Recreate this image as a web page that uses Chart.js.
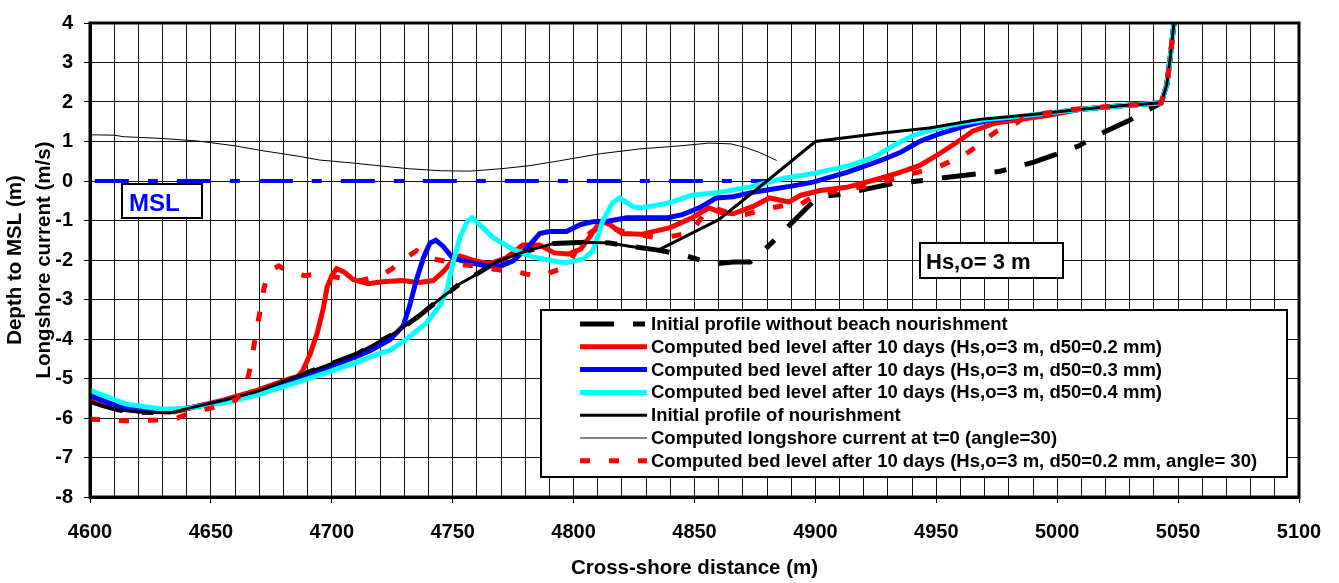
<!DOCTYPE html>
<html>
<head>
<meta charset="utf-8">
<script src="https://cdn.jsdelivr.net/npm/chart.js@4.4.1/dist/chart.umd.min.js"></script>
<style>
  html, body { margin: 0; padding: 0; background: #fff; }
  #wrap { width: 1339px; height: 583px; }
</style>
</head>
<body>
<div id="wrap"><canvas id="myChart" width="1339" height="583"></canvas></div>
<script>
// cross-shore profiles (x in m, y in m / m/s)
const noNourishX = [4600, 4605, 4612, 4620, 4633, 4641, 4655, 4669, 4683, 4696, 4710, 4724, 4728, 4736, 4745, 4753, 4758, 4768, 4779, 4786, 4792, 4805, 4815, 4823, 4835, 4845, 4858, 4866, 4873, 4880, 4888, 4901, 4910, 4923, 4932, 4946, 4954, 4968, 4976, 4990, 4998, 5009, 5016, 5029, 5037, 5043, 5045.3, 5046.6, 5048.3];
const noNourishY = [-5.58, -5.68, -5.8, -5.85, -5.87, -5.75, -5.56, -5.33, -5.0, -4.71, -4.39, -3.92, -3.77, -3.42, -2.97, -2.6, -2.43, -2.05, -1.8, -1.68, -1.58, -1.55, -1.57, -1.65, -1.75, -1.87, -2.1, -2.05, -2.05, -1.68, -1.2, -0.4, -0.34, -0.18, -0.06, 0.02, 0.09, 0.19, 0.24, 0.47, 0.64, 0.89, 1.14, 1.51, 1.78, 1.98, 2.43, 3.05, 4.0];

const bed02X = [4600, 4612, 4620, 4633, 4641, 4655, 4669, 4683, 4686, 4688, 4691, 4694, 4696.5, 4698, 4700, 4702, 4705, 4709, 4715, 4721, 4729, 4736, 4742, 4746, 4750, 4753, 4758, 4765, 4772, 4779, 4786, 4792, 4798, 4803, 4808, 4811, 4815, 4820, 4828, 4840, 4849, 4856, 4861, 4866, 4874, 4881, 4889, 4894, 4902, 4913, 4927, 4935, 4943, 4950, 4959, 4965, 4974, 4985, 4996, 5009, 5025, 5043, 5045.3, 5046.6, 5048.3];
const bed02Y = [-5.53, -5.75, -5.82, -5.85, -5.75, -5.55, -5.3, -5.0, -4.95, -4.8, -4.39, -3.84, -3.22, -2.7, -2.4, -2.22, -2.3, -2.5, -2.6, -2.55, -2.52, -2.57, -2.52, -2.3, -2.02, -1.9, -2.0, -2.1, -1.95, -1.62, -1.62, -1.82, -1.85, -1.72, -1.3, -1.03, -1.1, -1.33, -1.35, -1.18, -0.93, -0.68, -0.8, -0.83, -0.65, -0.43, -0.53, -0.36, -0.24, -0.16, 0.07, 0.22, 0.39, 0.64, 1.0, 1.26, 1.46, 1.56, 1.66, 1.81, 1.9, 1.98, 2.43, 3.05, 4.0];

const bed03X = [4600, 4612, 4620, 4633, 4645, 4655, 4669, 4683, 4696, 4710, 4716, 4724, 4729.5, 4732, 4735, 4738, 4740.6, 4743, 4746, 4750, 4756, 4764, 4770, 4775, 4781, 4786, 4790, 4797, 4803, 4808, 4814, 4822, 4839, 4845, 4852, 4859, 4866, 4873, 4880, 4890, 4899, 4913, 4927, 4935, 4943, 4951.5, 4961, 4971, 4985, 4996, 5009, 5025, 5043, 5045.3, 5046.6, 5048.3];
const bed03Y = [-5.43, -5.72, -5.8, -5.82, -5.7, -5.58, -5.37, -5.07, -4.77, -4.45, -4.29, -4.02, -3.67, -3.2, -2.5, -1.93, -1.57, -1.5, -1.65, -1.95, -2.05, -2.15, -2.15, -2.02, -1.68, -1.33, -1.28, -1.28, -1.1, -1.03, -1.02, -0.93, -0.93, -0.85, -0.68, -0.43, -0.4, -0.3, -0.23, -0.13, -0.03, 0.22, 0.52, 0.72, 1.0, 1.2, 1.38, 1.53, 1.63, 1.71, 1.81, 1.9, 1.98, 2.43, 3.05, 4.0];

const bed04X = [4600, 4615, 4630, 4640, 4655, 4669, 4683, 4696, 4710, 4720, 4724, 4731, 4739, 4744.7, 4747.6, 4750, 4753, 4756, 4758, 4761, 4767, 4775, 4783, 4794, 4797, 4804, 4808, 4812, 4816, 4819, 4824.6, 4828, 4839, 4849, 4859, 4873, 4887, 4900, 4914, 4924, 4932, 4940, 4949, 4960, 4971, 4985, 4996, 5009, 5025, 5043, 5045.3, 5046.6, 5048.3];
const bed04Y = [-5.3, -5.65, -5.78, -5.75, -5.62, -5.42, -5.15, -4.89, -4.6, -4.36, -4.29, -4.0, -3.6, -3.15, -2.77, -2.1, -1.43, -1.02, -0.93, -1.1, -1.45, -1.73, -1.92, -2.05, -2.07, -1.97, -1.77, -1.02, -0.56, -0.43, -0.65, -0.68, -0.56, -0.36, -0.3, -0.15, 0.07, 0.2, 0.39, 0.59, 0.89, 1.14, 1.31, 1.46, 1.56, 1.64, 1.72, 1.81, 1.9, 1.98, 2.43, 3.05, 4.0];

const nourishX = [4600, 4605, 4612, 4620, 4633, 4641, 4655, 4669, 4683, 4696, 4710, 4724, 4728, 4736, 4745, 4753, 4758, 4768, 4779, 4786, 4792, 4805, 4815, 4823, 4835, 4860, 4880, 4900, 4927, 4947, 4968, 4989, 5009, 5025, 5043, 5045.3, 5046.6, 5048.3];
const nourishY = [-5.58, -5.68, -5.8, -5.85, -5.87, -5.75, -5.56, -5.33, -5.0, -4.71, -4.39, -3.92, -3.77, -3.42, -2.97, -2.6, -2.43, -2.05, -1.8, -1.68, -1.58, -1.55, -1.57, -1.65, -1.75, -0.98, 0.0, 1.0, 1.21, 1.34, 1.56, 1.68, 1.81, 1.9, 1.98, 2.43, 3.05, 4.0];

const currentX = [4600, 4610, 4614, 4629, 4645, 4660, 4670, 4687, 4695, 4708, 4722, 4732, 4745, 4757, 4770, 4782, 4794, 4811, 4827, 4844, 4856, 4865, 4871, 4877, 4884];
const currentY = [1.17, 1.16, 1.12, 1.08, 1.01, 0.89, 0.78, 0.62, 0.53, 0.46, 0.37, 0.31, 0.26, 0.25, 0.31, 0.39, 0.51, 0.69, 0.81, 0.89, 0.96, 0.94, 0.85, 0.72, 0.52];

const bed02AngleX = [4600, 4615, 4628, 4636, 4641, 4652, 4660, 4664, 4666, 4668, 4670, 4672, 4674, 4678, 4682, 4689, 4694, 4703, 4712, 4720, 4725, 4728, 4735, 4738, 4746, 4750, 4759, 4771, 4775, 4783, 4787, 4795, 4798, 4803, 4807, 4811, 4816, 4822, 4834, 4838, 4845, 4849, 4855, 4858, 4866, 4871, 4880, 4889, 4893, 4901, 4912, 4919, 4926, 4936, 4940, 4949, 4952, 4961, 4964, 4971, 4975, 4983, 4986, 4994, 5006, 5025, 5043, 5045.3, 5046.6, 5048.3];
const bed02AngleY = [-6.03, -6.07, -6.05, -6.0, -5.88, -5.72, -5.55, -5.3, -4.8, -4.1, -3.4, -2.7, -2.3, -2.15, -2.3, -2.4, -2.35, -2.45, -2.52, -2.4, -2.22, -2.05, -1.77, -1.93, -2.02, -2.1, -2.15, -2.27, -2.28, -2.39, -2.39, -2.22, -2.1, -1.55, -1.3, -1.15, -1.2, -1.3, -1.43, -1.43, -1.35, -1.28, -0.73, -0.68, -0.85, -0.85, -0.7, -0.6, -0.62, -0.33, -0.23, -0.15, -0.05, 0.09, 0.19, 0.32, 0.39, 0.64, 0.76, 1.09, 1.26, 1.46, 1.59, 1.71, 1.81, 1.9, 1.98, 2.43, 3.05, 4.0];

const mslX = [4602, 4880];
const mslY = [0, 0];

const seriesLabels = [
  'Initial profile without beach nourishment',
  'Computed bed level after 10 days (Hs,o=3 m, d50=0.2 mm)',
  'Computed bed level after 10 days (Hs,o=3 m, d50=0.3 mm)',
  'Computed bed level after 10 days (Hs,o=3 m, d50=0.4 mm)',
  'Initial profile of nourishment',
  'Computed longshore current at t=0 (angle=30)',
  'Computed bed level after 10 days (Hs,o=3 m, d50=0.2 mm, angle= 30)'
];

const FONT = '"Liberation Sans", Arial, sans-serif';
Chart.defaults.font.family = FONT;
Chart.defaults.color = '#000';

function pts(xs, ys) {
  return xs.map((x, i) => ({x: x, y: ys[i]}));
}

function line(label, xs, ys, color, width, dash, order) {
  return {
    label: label,
    data: pts(xs, ys),
    showLine: true,
    borderColor: color,
    backgroundColor: color,
    borderWidth: width,
    borderDash: dash,
    pointRadius: 0,
    tension: 0,
    order: order
  };
}

// frame, legend box and the two text boxes
const extras = {
  id: 'extras',
  afterDraw(chart) {
    const ctx = chart.ctx;
    const a = chart.chartArea;
    ctx.save();
    ctx.strokeStyle = '#000';
    ctx.lineWidth = 3;
    ctx.strokeRect(a.left, a.top, a.right - a.left, a.bottom - a.top);

    // MSL box
    ctx.fillStyle = '#fff';
    ctx.lineWidth = 2;
    ctx.fillRect(122, 184, 80, 34);
    ctx.strokeRect(122, 184, 80, 34);
    ctx.fillStyle = '#0000ff';
    ctx.font = 'bold 24px ' + FONT;
    ctx.textBaseline = 'alphabetic';
    ctx.textAlign = 'left';
    ctx.fillText('MSL', 129, 211);

    // wave height box
    ctx.fillStyle = '#fff';
    ctx.fillRect(920, 243, 143, 35);
    ctx.strokeRect(920, 243, 143, 35);
    ctx.fillStyle = '#000';
    ctx.font = 'bold 22px ' + FONT;
    ctx.fillText('Hs,o= 3 m', 926, 269);

    // legend
    ctx.fillStyle = '#fff';
    ctx.fillRect(541, 310, 746, 167);
    ctx.strokeRect(541, 310, 746, 167);
    ctx.font = 'bold 18.5px ' + FONT;
    ctx.textBaseline = 'middle';
    const sets = chart.data.datasets.filter(d => d.label !== 'MSL');
    sets.forEach((d, i) => {
      const y = 324 + i * 22.8;
      ctx.beginPath();
      ctx.setLineDash(d.borderDash || []);
      ctx.lineWidth = d.borderWidth;
      ctx.strokeStyle = d.borderColor;
      ctx.moveTo(580, y);
      ctx.lineTo(647, y);
      ctx.stroke();
      ctx.setLineDash([]);
      ctx.fillStyle = '#000';
      ctx.fillText(d.label, 651, y + 1);
    });
    ctx.restore();
  }
};

const ctx = document.getElementById('myChart').getContext('2d');
const myChart = new Chart(ctx, {
  type: 'scatter',
  data: {
    datasets: [
      line(seriesLabels[0], noNourishX, noNourishY, '#000000', 5, [34, 19, 12, 19], 6),
      line(seriesLabels[1], bed02X, bed02Y, '#ff0000', 5, [], 5),
      line(seriesLabels[2], bed03X, bed03Y, '#0000ff', 5, [], 4),
      line(seriesLabels[3], bed04X, bed04Y, '#00ffff', 5, [], 3),
      line(seriesLabels[4], nourishX, nourishY, '#000000', 3, [], 2),
      line(seriesLabels[5], currentX, currentY, '#000000', 1, [], 1),
      line(seriesLabels[6], bed02AngleX, bed02AngleY, '#ff0000', 5, [10, 19], 0),
      line('MSL', mslX, mslY, '#0000ff', 4, [34, 19, 10, 19], 7)
    ]
  },
  options: {
    responsive: false,
    animation: false,
    devicePixelRatio: 1,
    layout: {padding: {left: 0, right: 40, top: 15, bottom: 0}},
    plugins: {
      legend: {display: false},
      tooltip: {enabled: false}
    },
    scales: {
      x: {
        type: 'linear',
        min: 4600,
        max: 5100,
        afterFit: s => { s.height = 86; },
        ticks: {
          stepSize: 10,
          autoSkip: false,
          maxRotation: 0,
          padding: 17,
          font: {size: 20, weight: 'bold'},
          callback: v => (v % 50 === 0 ? v : '')
        },
        grid: {
          color: '#151515',
          lineWidth: 1,
          tickLength: 6,
          tickColor: c => (c.tick && c.tick.value % 50 === 0 ? '#000' : 'rgba(0,0,0,0)')
        },
        border: {display: true, color: '#000', width: 3},
        title: {
          display: true,
          text: 'Cross-shore distance (m)',
          font: {size: 20.5, weight: 'bold'},
          padding: {top: 0, bottom: 2}
        }
      },
      y: {
        min: -8,
        max: 4,
        afterFit: s => { s.width = 90; },
        ticks: {
          stepSize: 1,
          padding: 11,
          font: {size: 20, weight: 'bold'}
        },
        grid: {color: '#151515', lineWidth: 1, tickLength: 6, tickColor: '#000'},
        border: {display: true, color: '#000', width: 3},
        title: {
          display: true,
          text: ['Depth to MSL (m)', 'Longshore current (m/s)'],
          font: {size: 20.5, weight: 'bold', lineHeight: 1.42},
          padding: {top: 1, bottom: 0}
        }
      }
    }
  },
  plugins: [extras]
});
</script>
</body>
</html>
